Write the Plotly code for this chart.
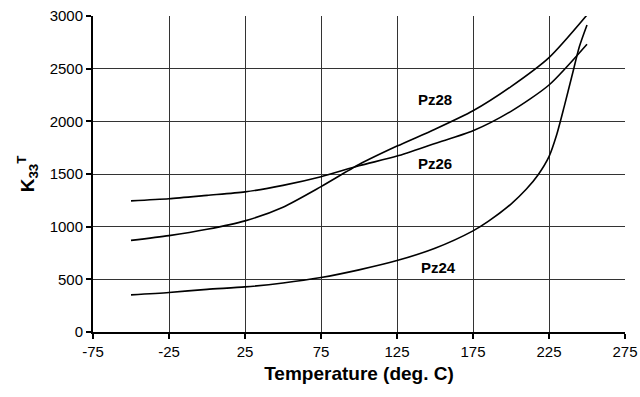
import plotly.graph_objects as go

# Relative permittivity K33^T versus temperature for three PZT grades
temp_c = [-50, -25, 0, 25, 50, 75, 100, 125, 150, 175, 200, 225, 250]
pz26_k33 = [1245, 1265, 1297, 1330, 1392, 1474, 1578, 1670, 1790, 1910, 2095, 2345, 2732]
pz28_k33 = [870, 915, 975, 1055, 1185, 1380, 1590, 1765, 1925, 2100, 2330, 2605, 3010]

pz24_temp = [-50, -25, 0, 25, 50, 75, 100, 125, 150, 175, 185, 200, 210, 218, 225, 230, 235, 240, 245, 250]
pz24_k33 = [352, 375, 405, 428, 465, 517, 590, 678, 795, 960, 1050, 1215, 1355, 1496, 1665, 1870, 2140, 2425, 2710, 2915]

series_names = ["Pz24", "Pz26", "Pz28"]
label_temp = [152, 150, 150]
label_k33 = [610, 1600, 2210]

x_ticks = [-75, -25, 25, 75, 125, 175, 225, 275]
y_ticks = [0, 500, 1000, 1500, 2000, 2500, 3000]

FONT = "Arial, Liberation Sans, sans-serif"

fig = go.Figure()
for name, xs, ys in [
    ("Pz24", pz24_temp, pz24_k33),
    ("Pz26", temp_c, pz26_k33),
    ("Pz28", temp_c, pz28_k33),
]:
    fig.add_trace(go.Scatter(
        x=xs, y=ys, name=name, mode="lines",
        line=dict(color="black", width=1.6, shape="spline", smoothing=0.7),
        showlegend=False,
    ))

for name, tx, ty in zip(series_names, label_temp, label_k33):
    fig.add_annotation(
        x=tx, y=ty, text=f"<b>{name}</b>", showarrow=False,
        font=dict(family=FONT, size=15, color="black"),
        xanchor="center", yanchor="middle",
    )

fig.update_layout(
    width=640, height=397,
    margin=dict(l=93, r=15, t=16, b=65),
    paper_bgcolor="white", plot_bgcolor="white",
    font=dict(family=FONT, size=15, color="black"),
    xaxis=dict(
        range=[-75, 275], tickvals=x_ticks, ticktext=[str(v) for v in x_ticks],
        showgrid=True, gridcolor="#333333", gridwidth=1,
        showline=True, linecolor="black", linewidth=2,
        ticks="outside", ticklen=5, tickwidth=1.5, tickcolor="black",
        zeroline=False, automargin=False,
        tickfont=dict(family=FONT, size=15, color="black"),
        title=dict(text="<b>Temperature (deg. C)</b>",
                   font=dict(family=FONT, size=19, color="black"), standoff=8),
    ),
    yaxis=dict(
        range=[0, 3000], tickvals=y_ticks, ticktext=[str(v) for v in y_ticks],
        showgrid=True, gridcolor="#333333", gridwidth=1,
        showline=True, linecolor="black", linewidth=2,
        ticks="outside", ticklen=5, tickwidth=1.5, tickcolor="black",
        zeroline=False, automargin=False,
        tickfont=dict(family=FONT, size=15, color="black"),
        title=dict(text="<b>K<sub>33</sub><sup>T</sup></b>",
                   font=dict(family=FONT, size=19, color="black"), standoff=10),
    ),
)

fig.write_html("out.html")
